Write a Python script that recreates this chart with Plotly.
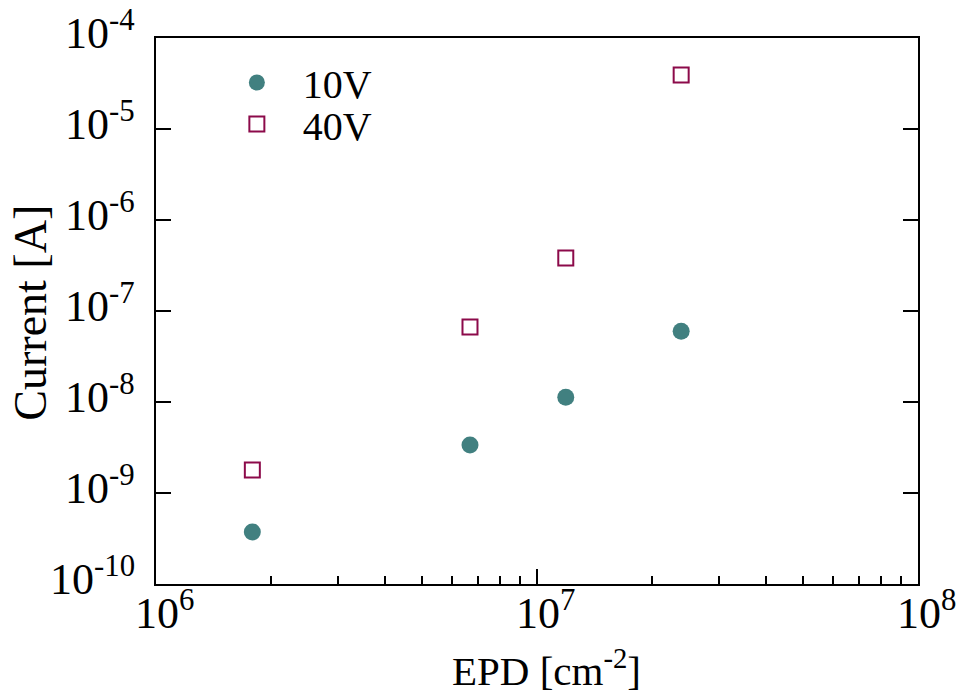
import math
import plotly.graph_objects as go

epd = [1.79e6, 6.67e6, 1.19e7, 2.39e7]
i_10v = [3.73e-10, 3.37e-9, 1.13e-8, 6.0e-8]
i_40v = [1.79e-9, 6.67e-8, 3.82e-7, 3.92e-5]

x_major = [1e6, 1e7, 1e8]
x_major_text = ["10<sup>6</sup>", "10<sup>7</sup>", "10<sup>8</sup>"]
x_minor = [k * 1e6 for k in range(2, 10)] + [k * 1e7 for k in range(2, 10)]
y_major = [1e-10, 1e-9, 1e-8, 1e-7, 1e-6, 1e-5, 1e-4]
y_major_text = ["10<sup>-10</sup>", "10<sup>-9</sup>", "10<sup>-8</sup>", "10<sup>-7</sup>",
                "10<sup>-6</sup>", "10<sup>-5</sup>", "10<sup>-4</sup>"]

FONT = "Liberation Serif"

fig = go.Figure()
fig.add_trace(go.Scatter(x=epd, y=i_10v, mode="markers", name="10V", legend="legend",
                         marker=dict(symbol="circle", size=17, color="#418080",
                                     line=dict(width=0))))
fig.add_trace(go.Scatter(x=epd, y=i_40v, mode="markers", name="40V", legend="legend2",
                         marker=dict(symbol="square-open", size=15, color="#8c0a4a",
                                     line=dict(width=2, color="#8c0a4a"))))

leg_style = dict(xanchor="left", yanchor="top", font=dict(size=40, family=FONT),
                 itemwidth=82, bgcolor="rgba(0,0,0,0)", borderwidth=0)

annotations = [
    dict(text="EPD [cm<sup>-2</sup>]", xref="paper", yref="paper", x=0.512, y=-0.154,
         showarrow=False, font=dict(size=41, family=FONT), xanchor="center", yanchor="middle"),
    dict(text="Current [A]", xref="paper", yref="paper", x=-0.164, y=0.497, textangle=-90,
         showarrow=False, font=dict(size=46, family=FONT), xanchor="center", yanchor="middle"),
]
# tick labels placed at the axis tick values
for v, t in zip(x_major, x_major_text):
    annotations.append(dict(text=t, xref="x", yref="paper", x=math.log10(v), y=0,
                            xanchor="center", yanchor="top", xshift=8, yshift=3,
                            showarrow=False, font=dict(size=44, family=FONT)))
for v, t in zip(y_major, y_major_text):
    annotations.append(dict(text=t, xref="paper", yref="y", x=0, y=math.log10(v),
                            xanchor="right", yanchor="middle", xshift=-19, yshift=8,
                            showarrow=False, font=dict(size=44, family=FONT)))

fig.update_layout(
    width=963, height=698,
    margin=dict(l=156, r=45, t=38, b=114, autoexpand=False),
    paper_bgcolor="white", plot_bgcolor="white",
    font=dict(family=FONT, color="black"),
    showlegend=True,
    legend=dict(x=0.072, y=0.978, **leg_style),
    legend2=dict(x=0.072, y=0.902, **leg_style),
    annotations=annotations,
)
fig.update_xaxes(
    type="log", range=[6, 8], automargin=False,
    tickmode="array", tickvals=x_major, showticklabels=False,
    ticks="inside", ticklen=15, tickwidth=2, tickcolor="black",
    minor=dict(tickmode="array", tickvals=x_minor, ticks="inside", ticklen=8,
               tickwidth=2, tickcolor="black", showgrid=False),
    showline=True, linewidth=2, linecolor="black", mirror=True,
    showgrid=False, zeroline=False,
)
fig.update_yaxes(
    type="log", range=[-10, -4], automargin=False,
    tickmode="array", tickvals=y_major, showticklabels=False,
    ticks="inside", ticklen=15, tickwidth=2, tickcolor="black",
    showline=True, linewidth=2, linecolor="black", mirror="ticks",
    showgrid=False, zeroline=False,
)

fig.write_html("out.html")
